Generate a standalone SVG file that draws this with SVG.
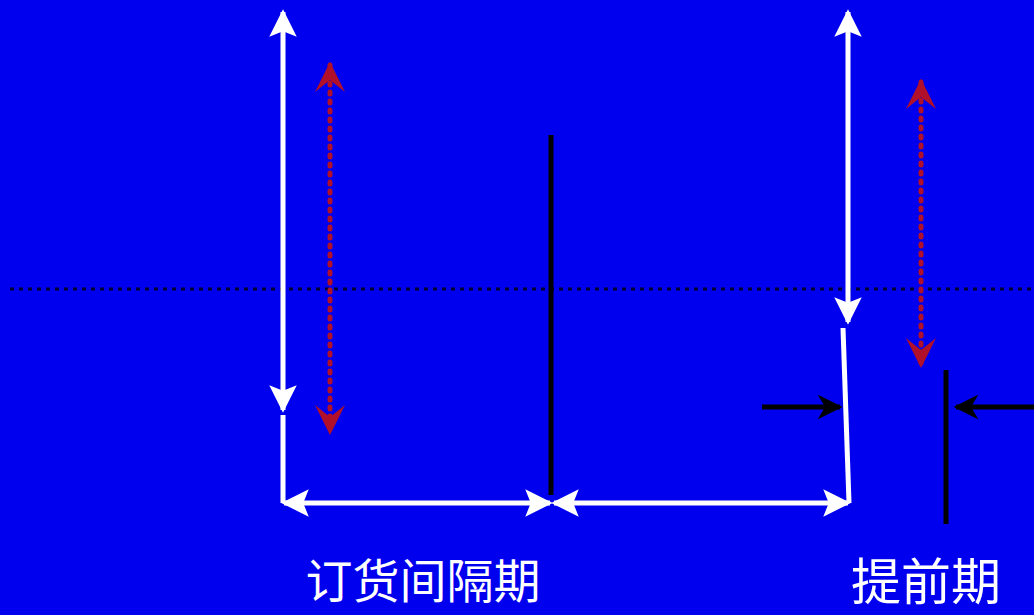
<svg xmlns="http://www.w3.org/2000/svg" width="1034" height="615" viewBox="0 0 1034 615">
<defs>
<style>
.w{stroke:#fff;stroke-width:5;fill:none}
.k{stroke:#000;stroke-width:5;fill:none}
.r{stroke:#b0102a;stroke-width:5;stroke-dasharray:2 7;stroke-linecap:round;fill:none}
.d{stroke:#000030;stroke-width:3;stroke-dasharray:4 5;fill:none}
.t{font-family:"Noto Sans CJK SC","Liberation Sans",sans-serif;fill:#fff}
</style>
<marker id="wa" viewBox="0 0 10 10" refX="9" refY="5" markerWidth="5.5" markerHeight="5.5" orient="auto-start-reverse" markerUnits="strokeWidth"><path d="M0,0 L10,5 L0,10 L2,5 z" fill="#fff"/></marker>
<marker id="ka" viewBox="0 0 10 10" refX="9" refY="5" markerWidth="5" markerHeight="5" orient="auto" markerUnits="strokeWidth"><path d="M0,0 L10,5 L0,10 L3,5 z" fill="#000"/></marker>
<marker id="ra" viewBox="0 0 10 10" refX="9" refY="5" markerWidth="6" markerHeight="6" orient="auto-start-reverse" markerUnits="strokeWidth"><path d="M0,0 L10,5 L0,10 L4,5 z" fill="#b0102a"/></marker>
</defs>
<rect width="1034" height="615" fill="#0000ee"/>
<g id="dotline"><line class="d" x1="10" y1="289" x2="1034" y2="289"/></g>
<g id="connectors">
<line class="w" x1="283" y1="12" x2="283" y2="410" marker-start="url(#wa)" marker-end="url(#wa)"/>
<polyline class="w" points="283,415 283,503"/>
<line class="w" x1="284" y1="503" x2="550" y2="503" marker-start="url(#wa)" marker-end="url(#wa)"/>
<line class="w" x1="554" y1="503" x2="848" y2="503" marker-start="url(#wa)" marker-end="url(#wa)"/>
<line class="w" x1="848" y1="12" x2="848" y2="322" marker-start="url(#wa)" marker-end="url(#wa)"/>
<line class="w" x1="843" y1="328" x2="849" y2="503"/>
<line class="k" x1="551" y1="135" x2="551" y2="495"/>
<line class="k" x1="946" y1="370" x2="946" y2="524"/>
<line class="k" x1="762" y1="407" x2="840" y2="407" marker-end="url(#ka)"/>
<line class="k" x1="1034" y1="407" x2="956" y2="407" marker-end="url(#ka)"/>
<line class="r" x1="330" y1="65" x2="330" y2="432" marker-start="url(#ra)" marker-end="url(#ra)"/>
<line class="r" x1="921" y1="82" x2="921" y2="365" marker-start="url(#ra)" marker-end="url(#ra)"/>
</g>
<g id="label1"><text class="t" x="423" y="598" font-size="47" text-anchor="middle">订货间隔期</text></g>
<g id="label2"><text class="t" x="926" y="600" font-size="50" text-anchor="middle">提前期</text></g>
</svg>
